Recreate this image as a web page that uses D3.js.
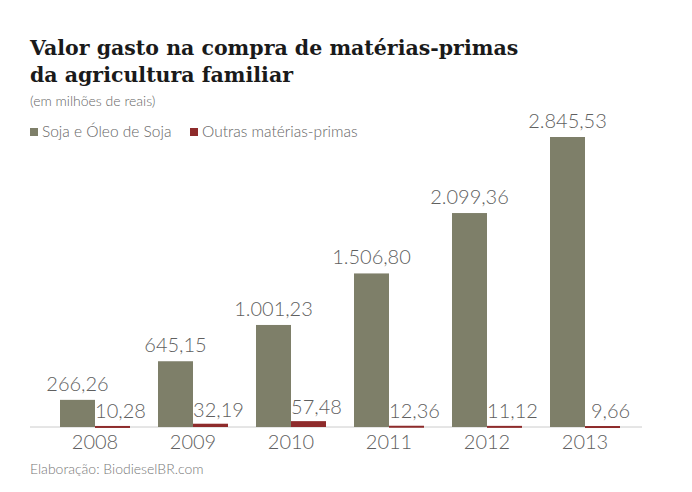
<!DOCTYPE html><html><head><meta charset="utf-8"><script src="https://cdn.jsdelivr.net/npm/d3@7"></script>
<style>body{margin:0;background:#fff}</style></head><body><script>
const years=["2008","2009","2010","2011","2012","2013"];
const soja=[266.26,645.15,1001.23,1506.80,2099.36,2845.53];
const outras=[10.28,32.19,57.48,12.36,11.12,9.66];
const seriesNames=["Soja e Óleo de Soja","Outras matérias-primas"];
const colors=["#7e7f69","#8e2b2b"];
const fmt=v=>d3.format(",.2f")(v).replace(/,/g,"X").replace(".",",").replace(/X/g,".");
const W=692,H=492,base=427;
const svg=d3.select("body").append("svg").attr("width",W).attr("height",H);
const ff="Lato, 'DejaVu Sans', sans-serif";
svg.append("text").attr("x",30).attr("y",55).attr("font-family","'DejaVu Serif', serif").attr("font-weight","bold").attr("font-size",20.5).attr("fill","#1a1a1a").text("Valor gasto na compra de matérias-primas");
svg.append("text").attr("x",30).attr("y",82).attr("font-family","'DejaVu Serif', serif").attr("font-weight","bold").attr("font-size",20.5).attr("fill","#1a1a1a").text("da agricultura familiar");
svg.append("text").attr("x",30).attr("y",106).attr("font-family",ff).attr("font-weight",300).attr("font-size",14).attr("fill","#666").text("(em milhões de reais)");
const lg=[[30,seriesNames[0]],[190,seriesNames[1]]];
lg.forEach(([x,t],i)=>{svg.append("rect").attr("x",x).attr("y",128).attr("width",8).attr("height",8).attr("fill",colors[i]);
svg.append("text").attr("x",x+12).attr("y",137).attr("font-family",ff).attr("font-weight",300).attr("font-size",15.5).attr("fill","#666").text(t);});
const x=d3.scaleBand().domain(years).range([46,634]);
const y=d3.scaleLinear().domain([0,2845.53]).range([base,137]);
const bw=35;
svg.append("line").attr("x1",30).attr("x2",642).attr("y1",base).attr("y2",base).attr("stroke","#ccc");
years.forEach((yr,i)=>{const c=x(yr)+x.bandwidth()/2;
svg.append("rect").attr("x",c-bw).attr("width",bw).attr("y",y(soja[i])).attr("height",base-y(soja[i])).attr("fill",colors[0]);
svg.append("rect").attr("x",c).attr("width",bw).attr("y",y(outras[i])).attr("height",Math.max(2,base-y(outras[i]))).attr("fill",colors[1]);
svg.append("text").attr("x",c-bw/2).attr("y",y(soja[i])-9).attr("text-anchor","middle").attr("font-family",ff).attr("font-weight",300).attr("font-size",20).attr("fill","#5f5f5f").text(fmt(soja[i]));
svg.append("text").attr("x",c+bw/2+8).attr("y",Math.min(y(outras[i]),base-2)-7).attr("text-anchor","middle").attr("font-family",ff).attr("font-weight",300).attr("font-size",20).attr("fill","#5f5f5f").text(fmt(outras[i]));
svg.append("text").attr("x",c).attr("y",449).attr("text-anchor","middle").attr("font-family",ff).attr("font-weight",300).attr("font-size",20).attr("fill","#5f5f5f").text(yr);
});
svg.append("text").attr("x",30).attr("y",474).attr("font-family",ff).attr("font-weight",300).attr("font-size",14).attr("fill","#777").text("Elaboração: BiodieselBR.com");
</script></body></html>
